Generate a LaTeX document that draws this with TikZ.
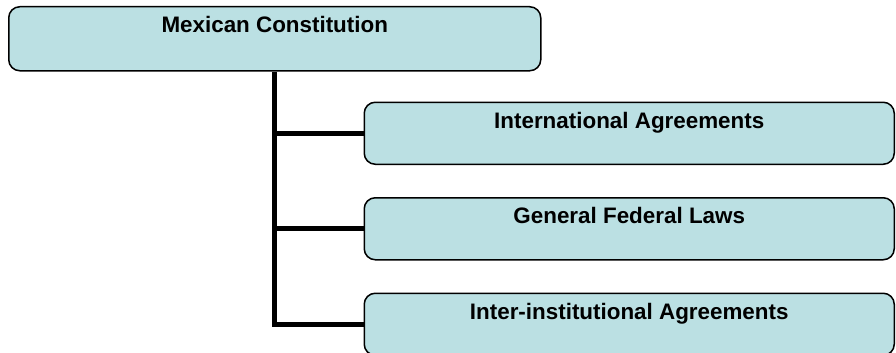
\documentclass[tikz,border=0pt]{standalone}
\usepackage{fontspec}
\setmainfont{Liberation Sans}
\usepackage{xcolor}
\usetikzlibrary{positioning}
\definecolor{boxfill}{RGB}{187,224,227}

\begin{document}
\begin{tikzpicture}[node distance=32pt,
		box/.style={draw=black, line width=1.5pt, fill=boxfill, rounded corners=11pt,
			inner xsep=0pt, inner ysep=0pt, text height=26pt,
			font=\fontsize{22.4}{26}\selectfont\bfseries},
		root/.style={box, minimum width=532pt, text depth=38pt},
		leaf/.style={box, minimum width=530pt, text depth=36pt},
		trunk/.style={line width=5pt}]
			\useasboundingbox (0pt,0pt) rectangle (896pt,-353pt);
			\node[root, anchor=north west] (mc) at (8pt,-6pt) {Mexican Constitution};
			\node[leaf, below right = 30pt and -178pt of mc.south east] (ia) {International Agreements};
			\node[leaf, below = of ia] (gfl) {General Federal Laws};
			\node[leaf, below = of gfl] (iia) {Inter-institutional Agreements};
			
			\draw[trunk] (mc.south) |- (iia.west);
			\draw[trunk] (mc.south |- ia.west) -- (ia.west);
			\draw[trunk] (mc.south |- gfl.west) -- (gfl.west);
		\end{tikzpicture}
\end{document}
